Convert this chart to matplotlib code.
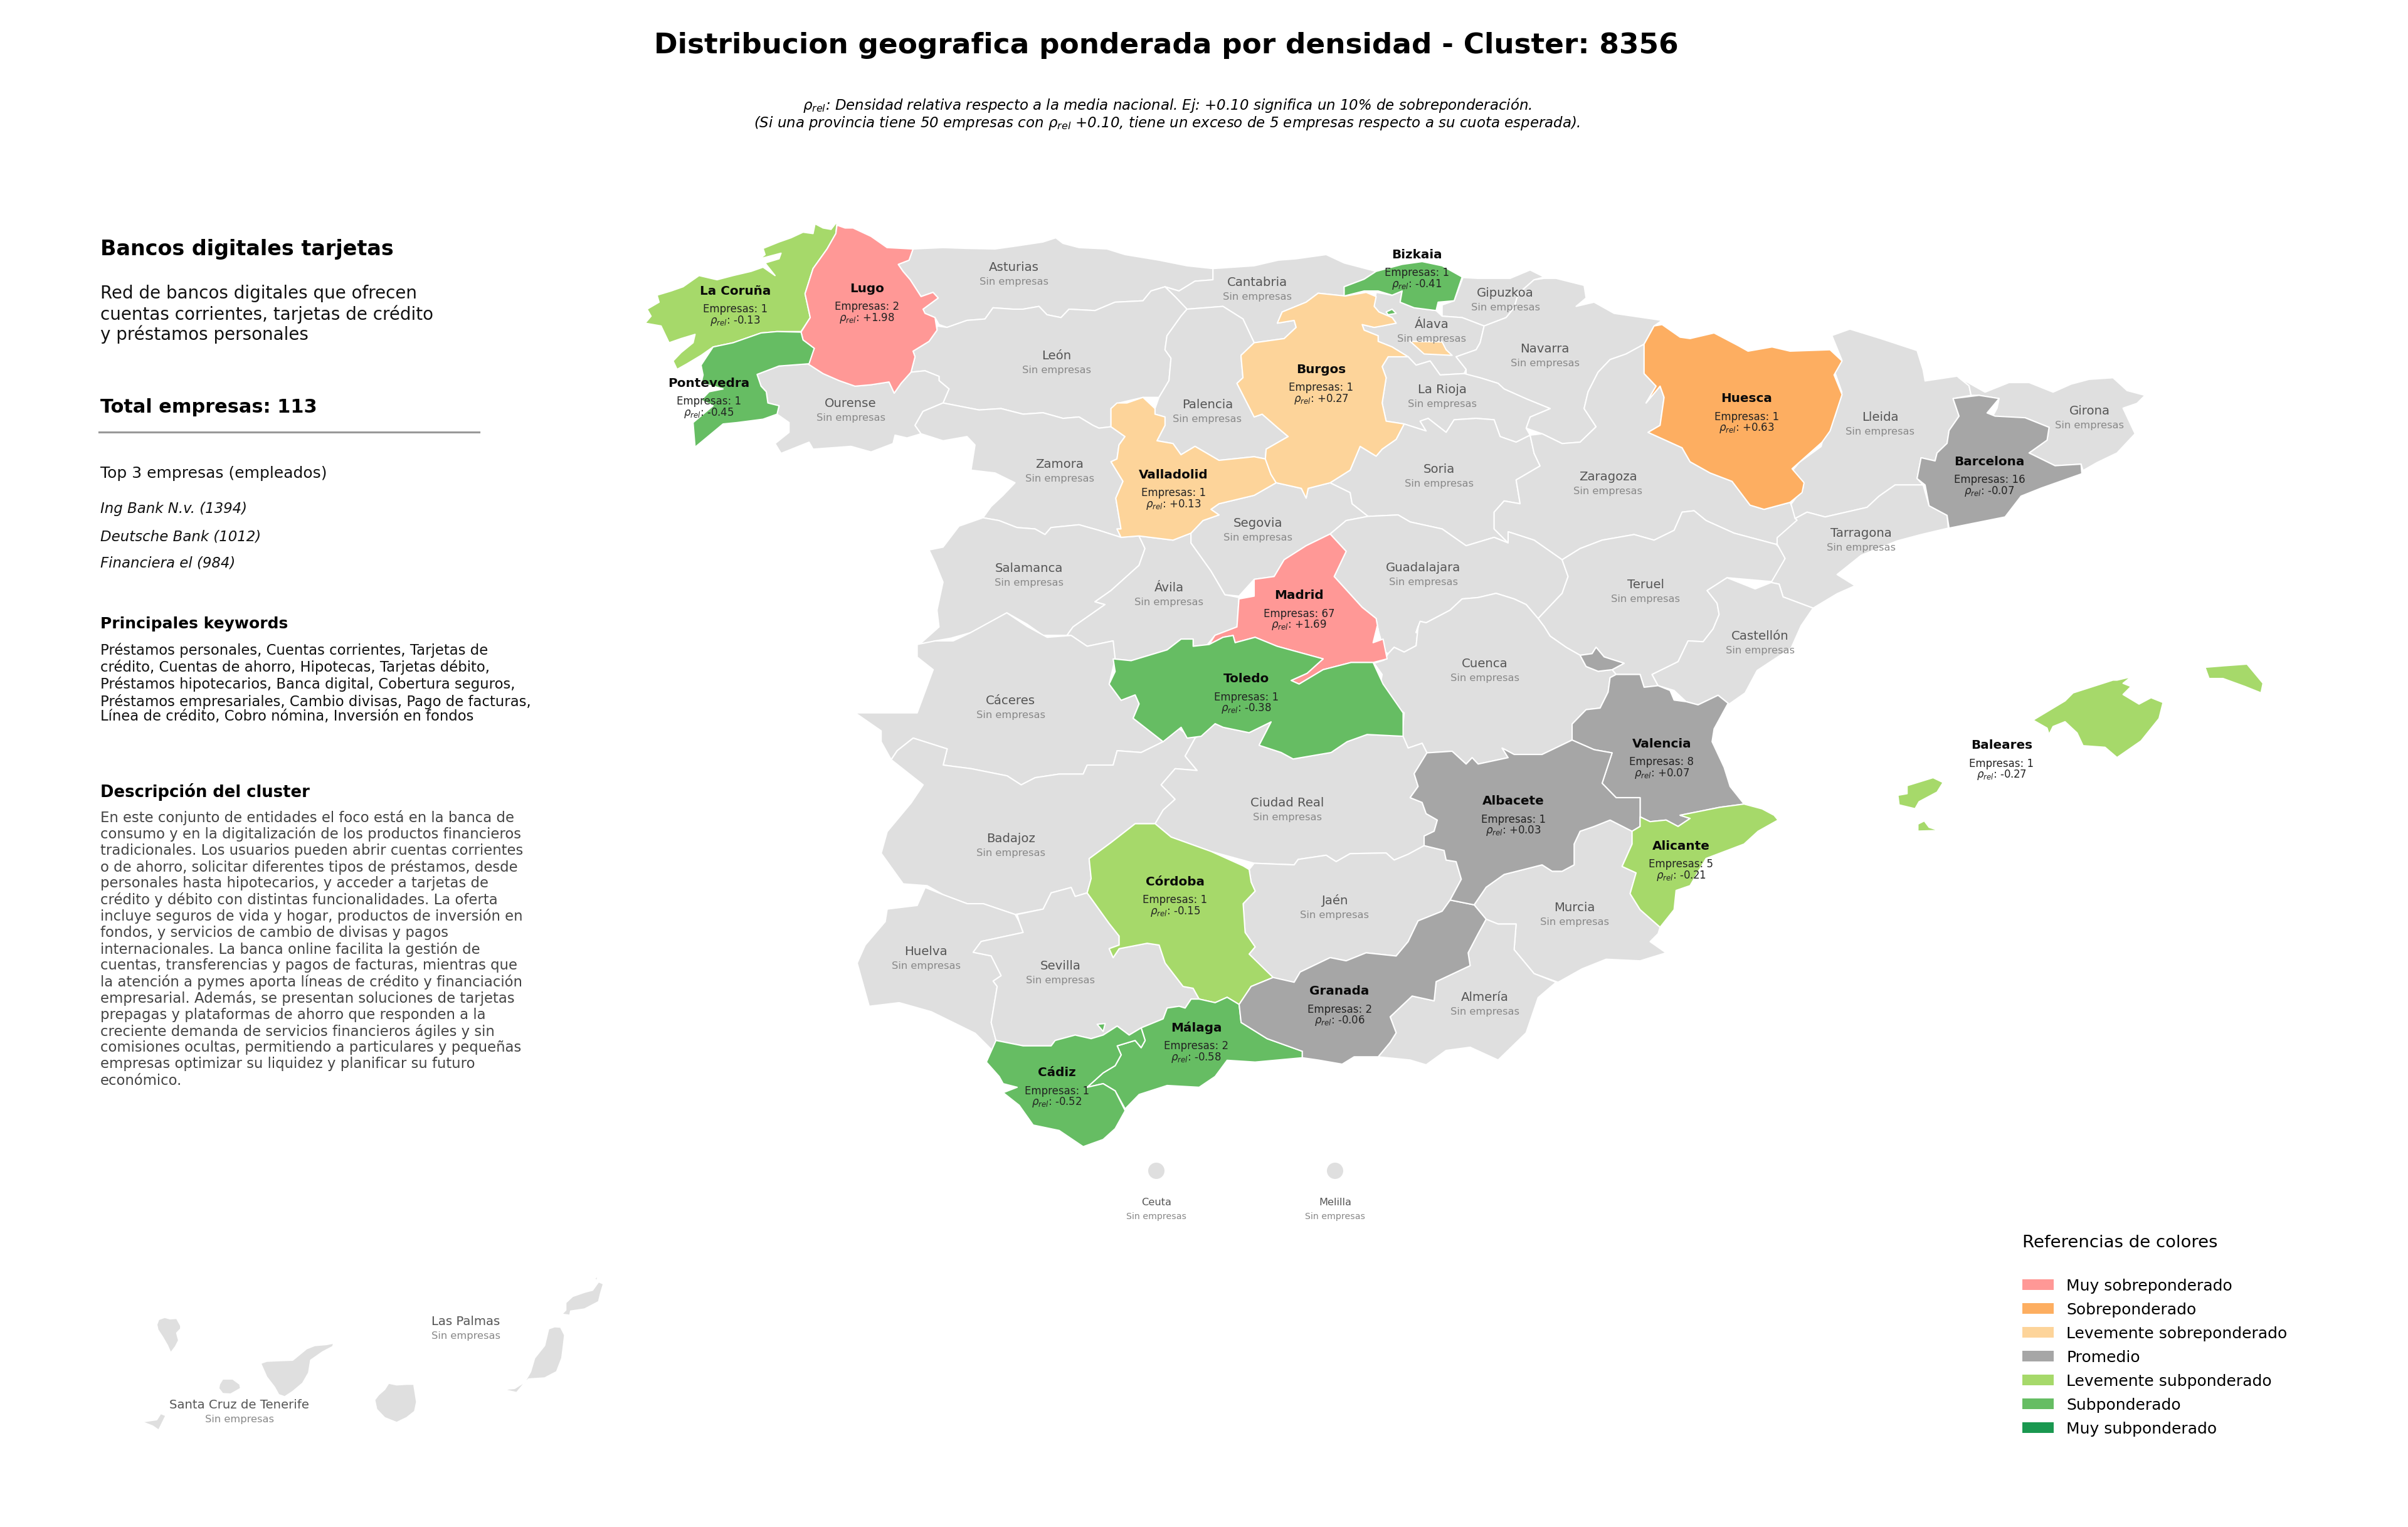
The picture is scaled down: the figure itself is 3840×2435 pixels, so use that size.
import matplotlib
matplotlib.use("Agg")
import matplotlib.pyplot as plt
from matplotlib.patches import Polygon, Patch, Ellipse

# ---- Text content ----
TITLE = "Distribucion geografica ponderada por densidad - Cluster: 8356"
SUB1 = r"$\rho_{rel}$: Densidad relativa respecto a la media nacional. Ej: +0.10 significa un 10% de sobreponderación."
SUB2 = r"(Si una provincia tiene 50 empresas con $\rho_{rel}$ +0.10, tiene un exceso de 5 empresas respecto a su cuota esperada)."
PANEL_TITLE = "Bancos digitales tarjetas"
PANEL_DESC = ["Red de bancos digitales que ofrecen", "cuentas corrientes, tarjetas de crédito", "y préstamos personales"]
TOTAL = "Total empresas: 113"
TOP_HEAD = "Top 3 empresas (empleados)"
TOP_COMPANIES = ["Ing Bank N.v. (1394)", "Deutsche Bank (1012)", "Financiera el (984)"]
KW_HEAD = "Principales keywords"
KEYWORDS = ["Préstamos personales, Cuentas corrientes, Tarjetas de",
            "crédito, Cuentas de ahorro, Hipotecas, Tarjetas débito,",
            "Préstamos hipotecarios, Banca digital, Cobertura seguros,",
            "Préstamos empresariales, Cambio divisas, Pago de facturas,",
            "Línea de crédito, Cobro nómina, Inversión en fondos"]
DESC_HEAD = "Descripción del cluster"
DESCRIPTION = ["En este conjunto de entidades el foco está en la banca de",
               "consumo y en la digitalización de los productos financieros",
               "tradicionales. Los usuarios pueden abrir cuentas corrientes",
               "o de ahorro, solicitar diferentes tipos de préstamos, desde",
               "personales hasta hipotecarios, y acceder a tarjetas de",
               "crédito y débito con distintas funcionalidades. La oferta",
               "incluye seguros de vida y hogar, productos de inversión en",
               "fondos, y servicios de cambio de divisas y pagos",
               "internacionales. La banca online facilita la gestión de",
               "cuentas, transferencias y pagos de facturas, mientras que",
               "la atención a pymes aporta líneas de crédito y financiación",
               "empresarial. Además, se presentan soluciones de tarjetas",
               "prepagas y plataformas de ahorro que responden a la",
               "creciente demanda de servicios financieros ágiles y sin",
               "comisiones ocultas, permitiendo a particulares y pequeñas",
               "empresas optimizar su liquidez y planificar su futuro",
               "económico."]

# ---- Legend ----
LEGEND_TITLE = "Referencias de colores"
CLASS_NAMES = ["Muy sobreponderado", "Sobreponderado", "Levemente sobreponderado", "Promedio",
               "Levemente subponderado", "Subponderado", "Muy subponderado"]
CLASS_COLORS = ["#FF9896", "#FDAE61", "#FDD49A", "#A6A6A6", "#A6D96A", "#66BD63", "#1A9850"]
NO_DATA = "#DFDFDF"

# ---- Tracing frames for the outlines: origin x, origin y, scale x, scale y ----
FRAMES = {"A": (1000, 340, 1.568, 2.24), "B": (2000, 340, 1.568, 2.24), "C": (2700, 560, 1.568, 1.96),
          "D": (1300, 1000, 1.568, 1.742), "E": (2000, 1000, 1.568, 1.96), "F": (100, 1950, 1.568, 3.0)}

# ---- Province outlines ----
la_coruna = [[("A", [(525,32),(510,60),(490,55),(470,40),(465,75),(440,70),(410,90),(380,105),(340,128),(345,150),(332,165),(385,145),(380,165),(345,180),(370,225),(340,195),(310,210),(265,225),(225,240),(180,225),(140,265),(110,280),(75,295),(80,320),(50,345),(60,370),(45,395),(85,405),(105,465),(135,450),(170,435),(165,465),(135,500),(115,530),(125,560),(150,540),(185,510),(215,480),(265,465),(335,430),(375,425),(435,425),(458,375),(445,290),(465,200),(500,130),(522,75)])]]
pontevedra = [[("A", [(435,427),(440,455),(468,485),(455,540),(380,548),(325,578),(335,620),(348,640),(352,680),(380,690),(375,720),(340,738),(275,750),(240,755),(170,838),(165,750),(190,720),(215,690),(185,670),(205,640),(240,630),(215,620),(185,610),(190,580),(185,545),(215,480),(265,465),(335,430),(375,425)])]]
lugo = [[("A", [(525,45),(545,55),(565,55),(610,85),(650,125),(715,130),(705,170),(678,185),(690,210),(708,240),(735,300),(765,285),(778,305),(740,345),(745,360),(770,375),(775,420),(755,460),(715,495),(720,515),(710,570),(685,610),(668,645),(655,605),(610,615),(570,620),(530,600),(490,575),(452,540),(468,485),(440,455),(435,427),(458,375),(445,290),(465,200),(500,130),(522,75)])]]
asturias = [[("A", [(715,130),(790,125),(850,128),(920,130),(970,120),(1040,105),(1072,90),(1090,110),(1130,125),(1200,130),(1245,150),(1330,170),(1400,190),(1465,200),(1465,240),(1420,245),(1380,280),(1345,265),(1310,280),(1290,315),(1220,320),(1170,350),(1105,345),(1085,375),(1050,365),(1030,335),(990,345),(965,345),(915,340),(895,380),(850,385),(800,410),(780,400),(770,375),(745,360),(740,345),(778,305),(765,285),(735,300),(708,240),(690,210),(678,185),(705,170)])]]
leon = [[("A", [(775,405),(800,410),(850,385),(895,380),(915,340),(965,345),(990,345),(1030,335),(1050,365),(1085,375),(1105,345),(1170,350),(1220,320),(1290,315),(1310,280),(1345,265),(1370,300),(1400,345),(1385,370),(1350,440),(1345,490),(1360,520),(1355,600),(1330,660),(1290,660),(1230,680),(1210,700),(1210,765),(1180,770),(1165,760),(1130,730),(1090,735),(1040,715),(990,720),(935,700),(880,705),(790,680),(805,630),(780,600),(780,585),(745,565),(710,570),(720,515),(715,495),(755,460),(775,420)])]]
ourense = [[("A", [(452,540),(490,575),(530,600),(570,620),(610,615),(655,605),(668,645),(685,610),(710,570),(745,565),(780,585),(780,600),(805,630),(790,680),(740,710),(720,760),(735,790),(700,805),(670,795),(665,825),(610,855),(560,835),(465,845),(455,820),(385,860),(370,825),(405,785),(405,750),(375,720),(380,690),(352,680),(348,640),(335,620),(325,578),(380,548),(455,540)])]]
zamora = [[("A", [(790,680),(880,705),(935,700),(990,720),(1040,715),(1090,735),(1130,730),(1165,760),(1180,770),(1210,765),(1245,800),(1230,830),(1225,880),(1210,890),(1240,960),(1222,1020),(1235,1130),(1225,1130),(1235,1160),(1180,1135),(1130,1115),(1060,1125),(1045,1150),(1020,1130),(975,1125),(930,1100),(890,1090),(910,1050),(940,1010),(970,965),(920,930),(860,920),(870,830),(850,800),(790,815),(735,790),(720,760),(740,710)])]]
valladolid = [[("A", [(1210,700),(1225,680),(1250,680),(1290,660),(1320,700),(1320,720),(1345,730),(1345,760),(1325,815),(1365,825),(1385,865),(1420,835),(1480,885),(1568,872)]),
               ("B", [(28,880),(42,935),(55,965)]),
               ("A", [(1568,1010),(1480,1040),(1460,1060),(1480,1080),(1440,1100),(1410,1145),(1365,1170),(1280,1155),(1235,1160),(1225,1130),(1235,1130),(1222,1020),(1240,960),(1210,890),(1225,880),(1230,830),(1245,800),(1210,765)])]]
palencia = [[("A", [(1400,345),(1385,370),(1350,440),(1345,490),(1360,520),(1355,600),(1330,660),(1320,700),(1320,720),(1345,730),(1345,760),(1325,815),(1365,825),(1385,865),(1420,835),(1480,885),(1568,872)]),
             ("B", [(28,880),(30,845),(85,800),(60,770),(40,745),(20,720),(0,730),(-43,610),(-28,590),(-33,510),(0,465)]),
             ("A", [(1540,380),(1490,335)])]]
cantabria = [[("A", [(1465,200),(1568,190)]),
              ("B", [(60,170),(105,165),(180,150),(225,180),(305,210),(275,238),(225,265),(228,298),(160,288),(130,320),(70,355),(58,395),(100,385),(105,410),(75,450),(0,465)]),
              ("A", [(1540,380),(1490,335),(1400,345),(1370,300),(1345,265),(1380,280),(1420,245),(1465,240)])]]
burgos = [[("B", [(160,288),(228,298),(280,285),(305,300),(300,335),(312,355),(345,375),(355,395),(320,405),(300,410),(270,400),(275,420),(310,440),(310,460),(345,480),(385,515),(335,515),(320,550),(330,590),(320,680),(330,745),(375,755),(355,810),(320,845),(305,870),(265,835),(240,920),(190,965),(135,985),(130,1020),(118,985),(55,965),(42,935),(28,880),(30,845),(85,800),(60,770),(40,745),(20,720),(0,730),(-43,610),(-28,590),(-33,510),(0,465),(75,450),(105,410),(100,385),(58,395),(70,355),(130,320)])],
          [("B", [(390,460),(470,462),(480,490),(495,510),(425,505)])]]
bizkaia = [[("B", [(225,265),(275,238),(305,210),(370,185),(420,175),(470,190),(520,230),(500,315),(460,320),(455,350),(400,340),(365,320),(370,280),(345,295),(310,280),(275,280),(225,298)])],
           [("B", [(330,355),(345,345),(355,360),(335,365)])]]
alava = [[("B", [(305,285),(345,295),(370,280),(365,320),(400,340),(455,350),(470,370),(520,375),(575,405),(565,465),(555,490),(505,515),(530,560),(525,575),(465,580),(440,530),(405,545),(385,515),(345,480),(310,460),(310,440),(275,420),(270,400),(300,410),(355,395),(345,375),(312,355),(300,335)])]]
gipuzkoa = [[("B", [(522,232),(560,235),(640,235),(690,205),(725,230),(700,240),(660,290),(650,340),(630,375),(575,405),(520,375),(470,370),(470,330),(500,315)])]]
navarra = [[("B", [(725,235),(755,235),(825,260),(830,305),(805,335),(850,320),(900,360),(1020,385),(1000,405),(975,470),(930,505),(890,525),(860,570),(835,640),(825,700),(855,765),(815,820),(770,825),(720,790),(680,770),(690,730),(740,700),(680,665),(625,630),(610,610),(565,590),(530,580),(530,560),(505,515),(555,490),(565,465),(575,405),(630,375),(650,340),(660,290),(700,240)])]]
huesca = [[("B", [(1020,400),(1065,445),(1090,450),(1150,430),(1210,475),(1235,495),(1295,480),(1340,495),(1440,490),(1470,530),(1450,580),(1470,650),(1440,780),(1420,820),(1345,915),(1375,965),(1370,1000),(1340,1035),(1275,1060),(1240,1045),(1195,960),(1140,930),(1090,890),(1070,840),(985,785),(1015,760),(1025,660),(1015,620),(980,680),(1005,620),(975,575),(975,470),(1000,405)])]]
la_rioja = [[("B", [(320,550),(335,515),(385,515),(405,545),(440,530),(465,580),(525,575),(565,590),(610,610),(625,630),(680,665),(740,700),(690,730),(680,770),(690,795),(655,820),(615,800),(600,740),(555,735),(500,740),(480,785),(435,735),(415,745),(430,780),(375,755),(330,745),(320,680),(330,590)])]]
soria = [[("B", [(375,755),(430,780),(415,745),(435,735),(480,785),(500,740),(555,735),(600,740),(615,800),(655,820),(690,795),(700,860),(715,905),(655,955),(665,1040),(625,1030),(600,1070),(600,1130),(635,1180),(600,1160),(530,1190),(470,1130),(390,1105),(360,1080),(285,1085),(245,1040),(240,1000),(190,965),(240,920),(265,835),(305,870),(320,845),(355,810)])]]
zaragoza = [[("B", [(690,795),(720,790),(770,825),(815,820),(855,765),(825,700),(835,640),(860,570),(890,525),(930,505),(975,470),(975,575),(1005,620),(980,680),(1015,620),(1025,660),(1015,760),(985,785),(1070,840),(1090,890),(1140,930),(1195,960),(1240,1045),(1275,1060),(1340,1035),(1360,1100),(1305,1185),(1200,1145),(1130,1100),(1100,1065),(1070,1070),(1050,1135),(1000,1170),(950,1150),(870,1170),(815,1200),(770,1240),(700,1170),(635,1140),(635,1180),(600,1130),(600,1070),(625,1030),(665,1040),(655,955),(715,905),(700,860)])]]
lleida = [[("C", [(372,30),(347,-47),(392,-67),(470,-37),(560,0),(575,60),(580,95),(660,80),(690,110),(695,140),(650,150),(665,205),(640,250),(635,290),(610,320),(605,345),(570,335),(560,400),(575,420),(505,420),(465,455),(435,490),(330,520),(285,505),(255,525),(245,480),(275,430),(275,410),(245,380),(265,350),(320,300),(325,275),(355,205),(372,130),(355,70)])]]
girona = [[("C", [(665,85),(680,95),(730,130),(790,100),(840,100),(900,130),(945,105),(990,90),(1050,85),(1085,125),(1130,140),(1110,165),(1075,180),(1105,260),(1060,320),(1010,350),(975,375),(970,355),(905,360),(840,320),(885,280),(890,240),(830,210),(745,215),(760,180),(765,150),(715,140),(695,140),(690,110)])]]
barcelona = [[("C", [(650,150),(715,140),(765,150),(745,180),(735,195),(755,205),(830,210),(890,240),(885,280),(840,320),(905,360),(970,355),(972,385),(870,430),(820,455),(780,520),(640,555),(635,515),(590,485),(580,420),(560,400),(570,335),(605,345),(610,320),(635,290),(640,250),(665,205)])]]
tarragona = [[("C", [(505,420),(575,420),(590,485),(635,515),(638,555),(570,575),(510,595),(420,640),(360,700),(405,735),(360,760),(300,805),(225,770),(215,730),(195,725),(230,650),(210,605),(210,585),(260,530),(255,525),(285,505),(330,520),(435,490),(465,455)])]]
castellon = [[("C", [(35,750),(85,710),(155,745),(195,725),(215,730),(225,770),(300,805),(270,860),(245,930),(160,1000),(130,1070),(90,1105)]),
              ("E", [(1160,215),(1110,245),(1080,235),(1050,200),(1010,185),(995,150),(1060,110),(1085,45)]),
              ("C", [(25,910),(50,870),(65,825),(60,790)])]]
teruel = [[("B", [(770,1240),(815,1200),(870,1170),(950,1150),(1000,1170),(1050,1135),(1070,1070),(1100,1065),(1130,1100),(1200,1145),(1305,1185),(1330,1220),(1310,1320)]),
           ("C", [(85,710),(35,750),(60,790),(65,825),(50,870),(25,910)]),
           ("E", [(1085,45),(1060,110),(995,150),(1010,185),(975,190),(965,150),(905,150),(895,135),(925,115),(875,95),(855,65),(845,85),(815,90),(780,65),(740,30),(725,0)]),
           ("B", [(710,1450),(770,1360),(785,1300)])]]
guadalajara = [[("B", [(285,1085),(360,1080),(390,1105),(470,1130),(530,1190),(600,1160),(635,1180),(635,1140),(700,1170),(770,1240),(785,1300),(770,1360),(710,1450),(680,1400),(650,1380),(605,1360),(560,1375),(520,1380),(490,1420),(430,1465),(415,1460),(405,1500)]),
                ("E", [(410,0),(405,60),(375,80),(350,65),(335,85)]),
                ("B", [(325,1568),(310,1490),(305,1450),(270,1410),(200,1300),(230,1210),(190,1148),(230,1100)])]]
madrid = [[("B", [(0,1310),(50,1300),(75,1240),(130,1190),(190,1148),(230,1210),(200,1300),(270,1410),(305,1450),(310,1490)]),
           ("D", [(1405,0),(1395,45),(1420,35),(1430,90),(1395,100),(1340,100),(1270,120),(1210,160),(1190,150),(1230,130),(1270,90),(1155,55),(1100,30),(1050,45),(1045,25),(1020,30),(985,50)]),
           ("A", [(1470,1510),(1525,1480),(1530,1380),(1568,1370)])]]
toledo = [[("D", [(745,90),(790,95),(880,65),(915,35),(945,35),(945,55),(985,50),(1020,30),(1045,25),(1050,45),(1100,30),(1155,55),(1270,90),(1230,130),(1190,150),(1210,160),(1270,120),(1340,100),(1395,100),(1420,160),(1470,240),(1470,305),(1380,300),(1330,320),(1290,350),(1195,368),(1165,350),(1110,330),(1140,265),(1085,295),(1020,280),(1000,270),(965,305),(930,310),(915,280),(870,320),(795,255),(810,215),(800,190),(765,205),(735,160),(750,125)])]]
avila = [[("A", [(1280,1155),(1365,1170),(1410,1145),(1410,1180),(1460,1280),(1495,1365),(1530,1375),(1525,1480),(1470,1510),(1450,1545)]),
          ("D", [(945,55),(945,35),(915,35),(880,65),(790,95),(745,90),(745,40),(680,55),(640,25)]),
          ("A", [(1100,1510),(1115,1480),(1195,1400),(1170,1390),(1210,1350),(1280,1260),(1295,1200)])]]
salamanca = [[("A", [(890,1090),(930,1100),(975,1125),(1020,1130),(1045,1150),(1060,1125),(1130,1115),(1180,1135),(1235,1160),(1280,1155),(1295,1200),(1280,1260),(1210,1350),(1170,1390),(1195,1400),(1115,1480),(1100,1510),(1040,1510),(1000,1470),(950,1430),(860,1500),(810,1520),(770,1530),(725,1550),(780,1480),(775,1420),(790,1320),(770,1250),(755,1205),(790,1195),(830,1120)])]]
segovia = [[("A", [(1410,1145),(1440,1100),(1480,1080),(1460,1060),(1480,1040),(1568,1010)]),
            ("B", [(55,965),(118,985),(130,1020),(135,985),(190,965),(240,1000),(245,1040),(285,1085),(230,1100),(190,1148),(130,1190),(75,1240),(50,1300),(0,1310)]),
            ("A", [(1530,1370),(1495,1365),(1460,1280),(1410,1180)])]]
caceres = [[("D", [(255,50),(300,40),(345,40),(387,18),(479,-38),(530,0),(580,30),(640,25),(680,55),(745,40),(750,90),(735,160),(765,205),(800,190),(810,215),(795,255),(870,320),(815,350),(755,345),(745,385),(680,385),(670,410),(610,410),(550,420),(515,440),(480,415),(390,395),(320,385),(330,340),(245,310),(205,345),(190,370),(165,320),(165,290),(100,240),(255,240),(295,120),(255,85)])]]
badajoz = [[("D", [(190,370),(205,345),(245,310),(330,340),(320,385),(390,395),(480,415),(515,440),(550,420),(610,410),(670,410),(680,385),(745,385),(755,345),(815,350),(870,320),(895,272),(930,300),(950,310),(925,360),(955,400),(900,395),(865,440),(900,480),(870,510),(850,548),(800,548),(740,600),(685,645),(690,700),(680,740),(650,750),(640,725),(590,740),(570,785),(500,800),(420,770),(380,770),(320,745),(280,720),(220,715),(165,630),(180,570),(240,490),(270,440)])]]
ciudad_real = [[("D", [(950,310),(1000,270),(1020,280),(1085,295),(1140,265),(1110,330),(1165,350),(1195,368),(1290,350),(1330,320),(1380,300),(1470,305)]),
                ("E", [(385,380),(420,365),(432,395),(400,460),(410,500),(390,535),(420,550),(430,585),(458,605),(450,640),(425,655),(425,685),(385,712),(350,730),(330,708),(240,710),(205,735),(180,715),(110,728),(100,745),(0,740)]),
                ("D", [(990,625),(890,585),(850,548),(870,510),(900,480),(865,440),(900,395),(955,400),(925,360)])]]
cordoba = [[("D", [(800,548),(850,548),(890,585),(990,625),(1070,665),(1085,675),(1090,710),(1100,735),(1070,770),(1075,850),(1100,890),(1085,910),(1145,975),(1090,1000),(1060,1050),(1030,1030),(1000,1045),(960,1035),(945,1005),(920,1000),(875,935),(860,885),(830,880),(760,895),(745,920),(735,895),(760,885),(760,860),(735,825),(680,740),(690,700),(685,645),(740,600)])]]
jaen = [[("E", [(0,740),(100,745),(110,728),(180,715),(205,735),(240,710),(330,708),(350,730),(385,712),(425,685),(475,700),(480,730),(505,735),(518,790),(490,855),(470,890),(410,920),(385,985),(355,1030),(280,1020),(230,1045),(190,1035),(115,1080),(100,1112),(48,1105)]),
         ("D", [(1085,910),(1100,890),(1075,850),(1070,770),(1100,735),(1090,710),(1085,675)])]]
cuenca = [[("E", [(335,85),(350,65),(375,80),(405,60),(410,0)]),
           ("B", [(405,1500),(415,1460),(430,1465),(490,1420),(520,1380),(560,1375),(605,1360),(650,1380),(680,1400),(710,1450)]),
           ("E", [(725,0),(740,30),(780,65),(815,90),(830,125),(860,140),(895,135),(905,150),(890,160),(885,205),(865,255),(830,260),(795,305),(795,355),(720,400),(650,400),(620,380),(635,410),(560,430),(545,410),(530,430),(495,390),(432,395),(420,365),(385,380),(370,340),(375,270),(345,240),(315,185),(320,150),(300,115),(325,105)])]]
valencia = [[("E", [(890,160),(905,150),(965,150),(975,190),(1010,185),(1040,200),(1050,230),(1080,235),(1110,245),(1160,215),(1185,240),(1150,320),(1145,360),(1175,440),(1190,500),(1225,555),(1165,565),(1065,590),(1090,600),(1060,625),(1030,605),(990,610),(965,595),(965,535),(905,535),(870,490),(895,395),(850,385),(795,355),(795,305),(830,260),(865,255),(885,205)])],
            [("E", [(815,90),(845,85),(855,65),(875,95),(925,115),(895,135),(860,140),(830,125)])]]
albacete = [[("E", [(432,395),(495,390),(530,430),(545,410),(560,430),(635,410),(620,380),(650,400),(720,400),(795,355),(850,385),(895,395),(870,490),(905,535),(965,535),(965,595),(965,625),(945,640),(890,605),(850,625),(815,640),(800,680),(800,745),(770,765),(745,765),(720,745),(625,775),(580,815),(550,870),(490,855),(518,790),(505,735),(480,730),(475,700),(425,685),(425,655),(450,640),(458,605),(430,585),(420,550),(390,535),(410,500),(400,460)])]]
alicante = [[("E", [(965,595),(990,610),(1030,605),(1060,625),(1090,600),(1065,590),(1165,565),(1225,555),(1270,570),(1300,590),(1310,605),(1260,640),(1225,680),(1130,725),(1090,810),(1055,825),(1050,885),(1015,940),(965,885),(940,835),(955,770),(920,750),(945,680),(945,640),(965,625)])]]
murcia = [[("E", [(550,870),(580,815),(625,775),(720,745),(745,765),(770,765),(800,745),(800,680),(815,640),(850,625),(890,605),(945,640),(945,680),(920,750),(955,770),(940,835),(965,885),(1015,940),(1010,960),(990,985),(1030,1020),(965,1045),(880,1040),(820,1070),(760,1112),(700,1085),(650,1010),(655,930),(610,930),(580,915)])]]
almeria = [[("E", [(580,915),(610,930),(655,930),(650,1010),(700,1085),(755,1112),(710,1160),(680,1270),(610,1355),(540,1315),(480,1325),(430,1370),(390,1355),(310,1345),(340,1300),(355,1270),(340,1220),(395,1155),(450,1170),(455,1110),(540,1060),(535,1020),(560,960)])]]
granada = [[("D", [(1145,975),(1090,1000),(1060,1050),(1065,1100),(1130,1145),(1218,1180),(1218,1198)]),
            ("E", [(160,1355),(220,1368),(250,1345),(310,1345),(340,1300),(355,1270),(340,1220),(395,1155),(450,1170),(455,1110),(540,1060),(535,1020),(560,960),(580,915),(550,870),(490,855),(470,890),(410,920),(385,985),(355,1030),(280,1020),(230,1045),(190,1035),(115,1080),(100,1112)])]]
malaga = [[("D", [(940,1035),(960,1035),(1000,1045),(1030,1030),(1060,1050),(1065,1100),(1130,1145),(1218,1180),(1218,1198),(1100,1210),(1030,1205),(1000,1250),(960,1280),(880,1275),(810,1300),(775,1340),(750,1290),(720,1270),(680,1280),(720,1240),(750,1220),(765,1190),(755,1165),(800,1150),(815,1170),(825,1150),(815,1115),(870,1090),(880,1060),(910,1055),(925,1060)])]]
cadiz = [[("D", [(452,1150),(520,1165),(590,1165),(600,1150),(650,1135),(690,1145),(720,1135),(755,1110),(785,1135),(815,1115),(825,1150),(815,1170),(800,1150),(755,1165),(765,1190),(750,1220),(720,1240),(680,1280),(720,1270),(750,1290),(775,1345),(750,1395),(720,1425),(670,1445),(610,1400),(545,1385),(510,1330),(470,1295),(505,1280),(470,1270),(460,1250),(428,1210)])],
         [("D", [(705,1105),(725,1103),(720,1125)])]]
sevilla = [[("D", [(505,800),(570,785),(590,740),(640,725),(650,750),(680,740),(735,825),(760,860),(760,885),(735,895),(745,920),(760,895),(830,880),(860,885),(875,935),(920,1000),(945,1005),(960,1035),(940,1035),(925,1060),(910,1055),(880,1060),(870,1090),(815,1115),(785,1135),(755,1110),(720,1135),(690,1145),(650,1135),(600,1150),(590,1165),(520,1165),(452,1150),(440,1100),(455,1000),(445,985),(465,970),(440,915),(395,905),(415,875),(520,850),(510,820)])]]
huelva = [[("D", [(275,725),(320,745),(380,770),(420,770),(500,800),(510,820),(520,850),(415,875),(395,905),(440,915),(465,970),(445,985),(455,1000),(440,1100),(452,1150),(445,1180),(400,1130),(290,1070),(210,1045),(135,1055),(105,935),(125,885),(175,820),(180,785),(255,775)])]]
baleares = [[("C", [(850,1155),(930,1095),(950,1070),(1050,1030),(1060,1030),(1095,1020),(1075,1040),(1095,1050),(1075,1075),(1115,1105),(1145,1085),(1175,1100),(1165,1150),(1120,1220),(1060,1272),(1030,1240),(975,1235),(960,1195),(930,1160),(900,1175),(890,1200),(885,1180)])],
            [("C", [(1280,990),(1330,985),(1385,980),(1425,1040),(1420,1070),(1380,1050),(1325,1025),(1290,1025)])],
            [("C", [(535,1360),(600,1335),(625,1350),(610,1380),(565,1410),(555,1432),(515,1420),(512,1390),(535,1385)])],
            [("C", [(562,1480),(578,1470),(590,1490),(615,1500),(562,1502)])]]
santa_cruz = [[("F", [(235,490),(240,465),(255,455),(268,462),(285,460),(295,495),(295,510),(285,530),(290,565),(282,595),(270,625),(262,590),(250,550),(238,515)])],
              [("F", [(198,955),(235,945),(245,915),(258,925),(240,995),(225,975)])],
              [("F", [(392,775),(400,750),(425,750),(443,775),(445,795),(420,822),(400,820),(390,795)])],
              [("F", [(495,675),(510,665),(545,662),(575,660),(610,605),(630,590),(660,585),(678,578),(675,595),(650,620),(620,660),(615,720),(600,770),(575,810),(555,835),(540,825),(530,790),(510,740)])]]
las_palmas = [[("F", [(815,770),(835,778),(860,775),(878,775),(880,800),(885,860),(880,905),(860,935),(835,958),(805,935),(785,895),(780,850),(790,825),(805,800)])],
              [("F", [(1215,510),(1230,500),(1245,502),(1255,540),(1252,590),(1248,650),(1235,715),(1205,745),(1165,750),(1150,780),(1135,815),(1100,800),(1130,795),(1155,765),(1170,715),(1180,650),(1205,590)])],
              [("F", [(1258,385),(1275,355),(1305,335),(1325,325),(1340,285),(1352,295),(1345,340),(1340,380),(1305,415),(1270,425),(1268,445),(1248,440),(1258,420)])],
              [("F", [(1330,270),(1338,255),(1336,280)])]]

# ---- Values: provinces with companies ----
ACTIVE = ["La Coruña", "Lugo", "Pontevedra", "Valladolid", "Burgos", "Bizkaia", "Huesca", "Madrid", "Barcelona",
          "Baleares", "Toledo", "Córdoba", "Málaga", "Cádiz", "Granada", "Valencia", "Albacete", "Alicante"]
EMPRESAS = [1, 2, 1, 1, 1, 1, 1, 67, 16, 1, 1, 1, 2, 1, 2, 8, 1, 5]
RHO = [-0.13, 1.98, -0.45, 0.13, 0.27, -0.41, 0.63, 1.69, -0.07, -0.27, -0.38, -0.15, -0.58, -0.52, -0.06, 0.07, 0.03, -0.21]
ACTIVE_GEOM = [la_coruna, lugo, pontevedra, valladolid, burgos, bizkaia, huesca, madrid, barcelona,
               baleares, toledo, cordoba, malaga, cadiz, granada, valencia, albacete, alicante]
ACTIVE_POS = [("A",270,278),("A",600,269),("A",205,608),("A",1366,935),("B",167,558),("B",407,148),("B",1231,663),
              ("B",112,1366),("C",741,345),("C",771,1232),("D",1078,144),("D",900,708),("D",953,1114),("D",604,1238),
              ("D",1311,1012),("E",1019,365),("E",648,544),("E",1067,685)]

EMPTY = ["Asturias", "Cantabria", "Gipuzkoa", "Álava", "Navarra", "La Rioja", "León", "Ourense", "Palencia", "Zamora",
         "Salamanca", "Ávila", "Segovia", "Soria", "Zaragoza", "Guadalajara", "Teruel", "Lleida", "Girona", "Tarragona",
         "Castellón", "Cuenca", "Cáceres", "Badajoz", "Ciudad Real", "Jaén", "Huelva", "Sevilla", "Murcia", "Almería",
         "Santa Cruz de Tenerife", "Las Palmas"]
EMPTY_GEOM = [asturias, cantabria, gipuzkoa, alava, navarra, la_rioja, leon, ourense, palencia, zamora,
              salamanca, avila, segovia, soria, zaragoza, guadalajara, teruel, lleida, girona, tarragona,
              castellon, cuenca, caceres, badajoz, ciudad_real, jaen, huelva, sevilla, murcia, almeria,
              santa_cruz, las_palmas]
EMPTY_POS = [("A",967,193),("B",8,247),("B",628,286),("B",444,397),("B",727,484),("B",470,630),("A",1074,510),("A",559,680),
             ("A",1451,685),("A",1082,898),("A",1005,1270),("A",1355,1339),("B",10,1108),("B",462,916),("B",885,943),
             ("B",423,1267),("B",979,1328),("C",468,206),("C",991,188),("C",420,569),("C",168,890),("E",577,115),
             ("D",489,204),("D",489,588),("D",1180,488),("D",1299,760),("D",277,902),("D",613,941),("E",801,878),
             ("E",577,1157),("F",442,872),("F",1008,472)]
CITIES = ["Ceuta", "Melilla"]
CITY_X = [1844, 2129]
CITY_Y = [1868, 1868]


def to_px(frame, x, y):
    ox, oy, sx, sy = FRAMES[frame]
    return ox + x / sx, oy + y / sy


def ring(chains):
    return [to_px(f, x, y) for f, pts in chains for x, y in pts]


def colour_for(r):
    a = abs(r)
    if a < 0.10:
        return CLASS_COLORS[3]
    if r > 0:
        return CLASS_COLORS[0] if a >= 1 else CLASS_COLORS[1] if a >= 0.3 else CLASS_COLORS[2]
    return CLASS_COLORS[6] if a >= 1 else CLASS_COLORS[5] if a >= 0.3 else CLASS_COLORS[4]


fig = plt.figure(figsize=(25.6, 16.24), dpi=150, facecolor="white")
ax = fig.add_axes([0, 0, 1, 1])
ax.set_xlim(0, 3840)
ax.set_ylim(2436, 0)
ax.axis("off")

EDGE = dict(edgecolor="white", linewidth=1.0, joinstyle="round")

for geom in EMPTY_GEOM:
    for poly in geom:
        ax.add_patch(Polygon(ring(poly), closed=True, facecolor=NO_DATA, zorder=1, **EDGE))
for x, y in zip(CITY_X, CITY_Y):
    ax.add_patch(Ellipse((x, y), 26, 26, facecolor=NO_DATA, edgecolor="none", zorder=1))
for geom, r in zip(ACTIVE_GEOM, RHO):
    for poly in geom:
        ax.add_patch(Polygon(ring(poly), closed=True, facecolor=colour_for(r), zorder=2, **EDGE))

# labels
for name, (f, x, y) in zip(EMPTY, EMPTY_POS):
    px, py = to_px(f, x, y)
    ax.text(px, py, name, ha="center", va="center", fontsize=9.5, color="#555555", zorder=5)
    ax.text(px, py + 23, "Sin empresas", ha="center", va="center", fontsize=7.8, color="#888888", zorder=5)
for name, x, y in zip(CITIES, CITY_X, CITY_Y):
    ax.text(x, y + 50, name, ha="center", va="center", fontsize=7.8, color="#555555", zorder=5)
    ax.text(x, y + 72, "Sin empresas", ha="center", va="center", fontsize=6.8, color="#888888", zorder=5)
for name, n, r, (f, x, y) in zip(ACTIVE, EMPRESAS, RHO, ACTIVE_POS):
    px, py = to_px(f, x, y)
    ax.text(px, py, name, ha="center", va="center", fontsize=9.6, fontweight="bold", color="#0A0A0A", zorder=5)
    ax.text(px, py + 29, f"Empresas: {n}", ha="center", va="center", fontsize=8, color="#222222", zorder=5)
    ax.text(px, py + 47, rf"$\rho_{{rel}}$: {r:+.2f}", ha="center", va="center", fontsize=8, color="#222222", zorder=5)

# header
ax.text(1860, 73, TITLE, ha="center", va="center", fontsize=21.8, fontweight="bold", color="black")
ax.text(1861, 168, SUB1, ha="center", va="center", fontsize=11, style="italic", color="black")
ax.text(1861, 197, SUB2, ha="center", va="center", fontsize=11, style="italic", color="black")

# left panel
LEFT = 160
ax.text(LEFT, 397, PANEL_TITLE, ha="left", va="center", fontsize=16, fontweight="bold", color="black")
for y, s in zip([468, 501, 533], PANEL_DESC):
    ax.text(LEFT, y, s, ha="left", va="center", fontsize=13.3, color="#111111")
ax.text(LEFT, 650, TOTAL, ha="left", va="center", fontsize=14.6, fontweight="bold", color="black")
ax.plot([158, 764], [690, 690], color="#999999", lw=1.5, zorder=1)
ax.text(LEFT, 755, TOP_HEAD, ha="left", va="center", fontsize=12, color="#111111")
for y, s in zip([812, 856, 898], TOP_COMPANIES):
    ax.text(LEFT, y, s, ha="left", va="center", fontsize=11, style="italic", color="#111111")
ax.text(LEFT, 995, KW_HEAD, ha="left", va="center", fontsize=12, fontweight="bold", color="black")
for y, s in zip([1037, 1064, 1091, 1119, 1143], KEYWORDS):
    ax.text(LEFT, y, s, ha="left", va="center", fontsize=10.9, color="#111111")
ax.text(LEFT, 1263, DESC_HEAD, ha="left", va="center", fontsize=12.4, fontweight="bold", color="black")
for i, s in enumerate(DESCRIPTION):
    ax.text(LEFT, 1304 + i * 26.2, s, ha="left", va="center", fontsize=10.9, color="#444444")

# legend
handles = [Patch(facecolor=c, edgecolor="none", label=n) for c, n in zip(CLASS_COLORS, CLASS_NAMES)]
leg = ax.legend(handles=handles, title=LEGEND_TITLE + "\n", loc="upper left",
                bbox_to_anchor=(3225 / 3840, 1 - 1969 / 2436), bbox_transform=fig.transFigure,
                frameon=False, fontsize=12, title_fontsize=13.2, borderpad=0, borderaxespad=0,
                labelspacing=0.56, handlelength=2.0, handletextpad=0.8, alignment="left")

fig.savefig("out.png", dpi=150, facecolor="white")
